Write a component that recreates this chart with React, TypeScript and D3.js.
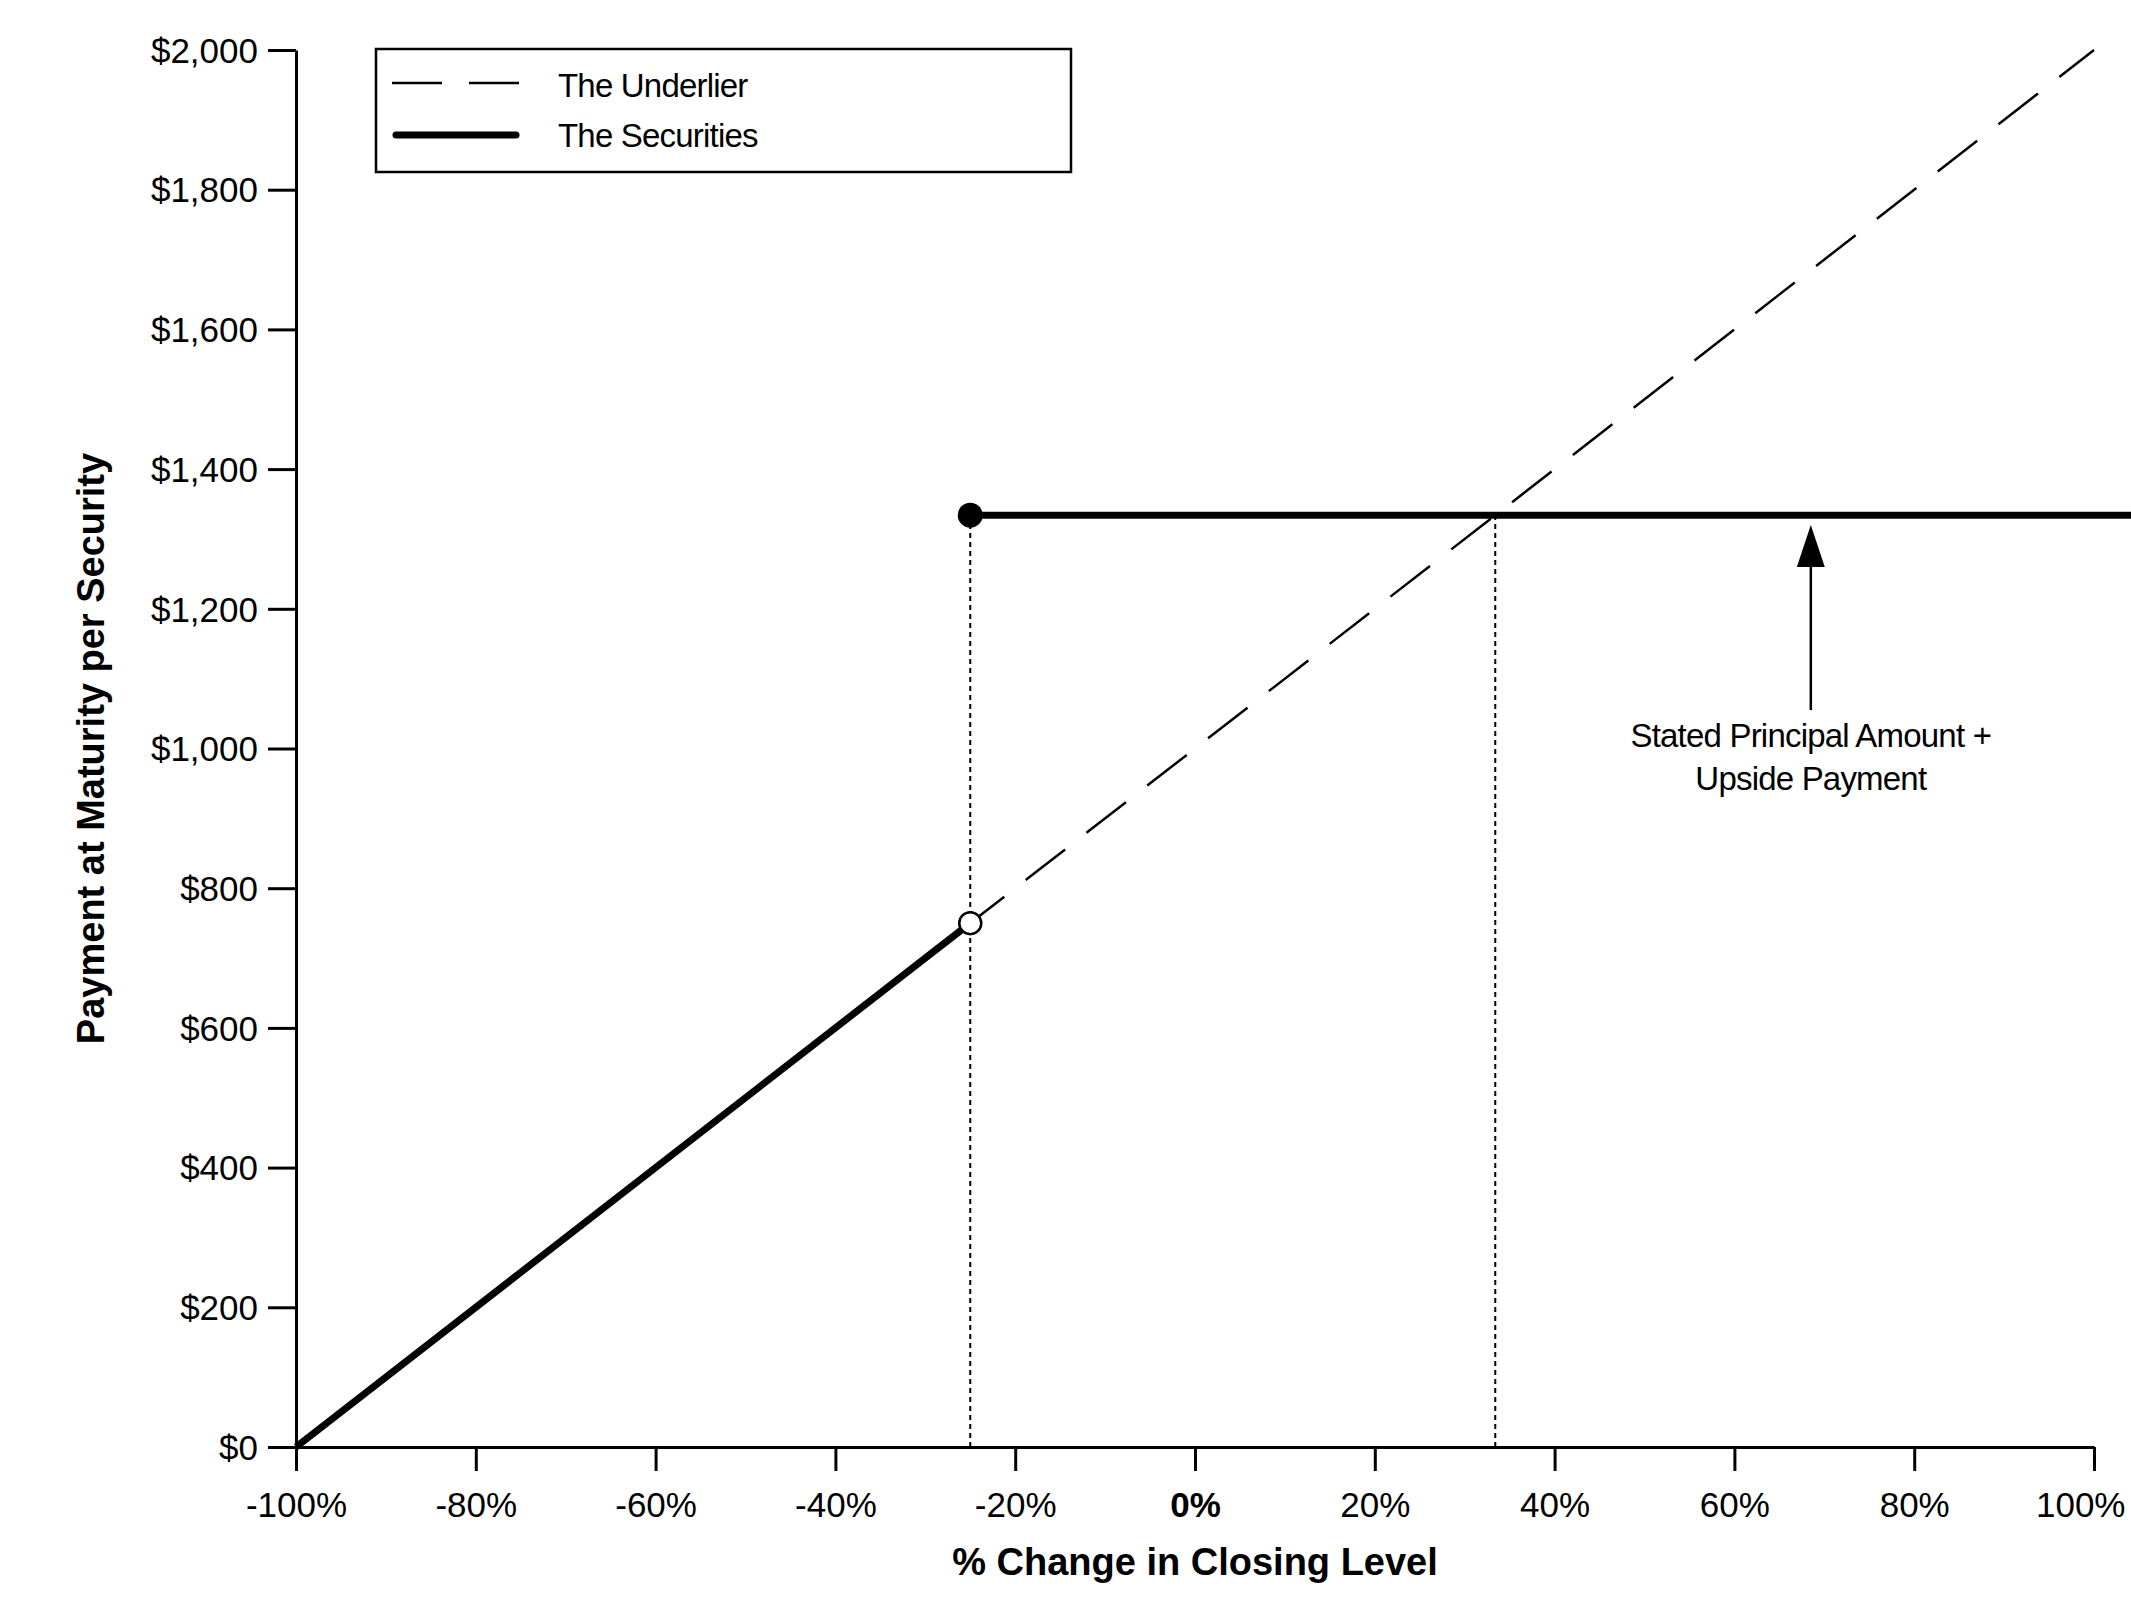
import * as d3 from "d3";
import { useEffect, useRef } from "react";

// % change in closing level (x) and payment per security (y)
const pctTicks = [-100, -80, -60, -40, -20, 0, 20, 40, 60, 80, 100];
const dollarTicks = [0, 200, 400, 600, 800, 1000, 1200, 1400, 1600, 1800, 2000];

const underlier = [
  { pct: -100, value: 0 },
  { pct: 100, value: 2000 },
];
const securitiesLow = [
  { pct: -100, value: 0 },
  { pct: -25, value: 750 },
];
const securitiesCap = [
  { pct: -25, value: 1334 },
  { pct: 106, value: 1334 },
];
const markerLines = [-25, 33.4];
const capValue = 1334;
const openPoint = { pct: -25, value: 750 };
const closedPoint = { pct: -25, value: 1334 };
const arrow = { pct: 68.5, from: 1055, to: 1320 };
const noteLines = ["Stated Principal Amount +", "Upside Payment"];
const legendItems = ["The Underlier", "The Securities"];

const W = 2131;
const H = 1612;
const FONT = "'Liberation Sans', Arial, sans-serif";

export default function App() {
  const ref = useRef<SVGSVGElement>(null);

  useEffect(() => {
    if (!ref.current) return;
    const svg = d3.select(ref.current);
    svg.selectAll("*").remove();

    const x = d3.scaleLinear().domain([-100, 100]).range([296, 2094]);
    const y = d3.scaleLinear().domain([0, 2000]).range([1447, 50]);

    const line = d3
      .line<{ pct: number; value: number }>()
      .x((d) => x(d.pct))
      .y((d) => y(d.value));

    // x axis
    const xAxis = svg
      .append("g")
      .attr("transform", `translate(0,${y(0)})`)
      .call(
        d3
          .axisBottom(x)
          .tickValues(pctTicks)
          .tickSize(24)
          .tickSizeOuter(0)
          .tickFormat((d) => `${d}%`)
      );
    xAxis.select(".domain").attr("stroke", "#000").attr("stroke-width", 3);
    xAxis.selectAll(".tick line").attr("stroke", "#000").attr("stroke-width", 3);
    xAxis
      .selectAll<SVGTextElement, number>(".tick text")
      .attr("y", 70)
      .attr("dy", 0)
      .attr("fill", "#000")
      .attr("font-family", FONT)
      .attr("font-size", 35)
      .attr("font-weight", (d) => (d === 0 ? "bold" : "normal"))
      // last label is pulled inside the page edge, as in the original
      .attr("text-anchor", (d) => (d === 100 ? "end" : "middle"))
      .attr("x", (d) => (d === 100 ? 31 : 0));

    // y axis
    const yAxis = svg
      .append("g")
      .attr("transform", `translate(${x(-100)},0)`)
      .call(
        d3
          .axisLeft(y)
          .tickValues(dollarTicks)
          .tickSize(28)
          .tickSizeOuter(0)
          .tickFormat((d) => `$${d3.format(",")(d as number)}`)
      );
    yAxis.select(".domain").attr("stroke", "#000").attr("stroke-width", 3);
    yAxis.selectAll(".tick line").attr("stroke", "#000").attr("stroke-width", 3);
    yAxis
      .selectAll(".tick text")
      .attr("x", -38)
      .attr("dy", "0.35em")
      .attr("fill", "#000")
      .attr("font-family", FONT)
      .attr("font-size", 35);

    // axis titles
    svg
      .append("text")
      .attr("x", (x(-100) + x(100)) / 2)
      .attr("y", 1575)
      .attr("text-anchor", "middle")
      .attr("font-family", FONT)
      .attr("font-weight", "bold")
      .attr("font-size", 38)
      .text("% Change in Closing Level");

    svg
      .append("text")
      .attr("transform", `translate(104,${(y(0) + y(2000)) / 2}) rotate(-90)`)
      .attr("text-anchor", "middle")
      .attr("font-family", FONT)
      .attr("font-weight", "bold")
      .attr("font-size", 38)
      .text("Payment at Maturity per Security");

    // dotted guide lines
    svg
      .selectAll(".guide")
      .data(markerLines)
      .enter()
      .append("line")
      .attr("x1", (d) => x(d))
      .attr("x2", (d) => x(d))
      .attr("y1", y(0))
      .attr("y2", y(capValue))
      .attr("stroke", "#000")
      .attr("stroke-width", 2)
      .attr("stroke-dasharray", "5,4");

    // the underlier
    svg
      .append("path")
      .attr("d", line(underlier))
      .attr("fill", "none")
      .attr("stroke", "#000")
      .attr("stroke-width", 2.5)
      .attr("stroke-dasharray", "50,27");

    // the securities
    svg
      .append("path")
      .attr("d", line(securitiesLow))
      .attr("fill", "none")
      .attr("stroke", "#000")
      .attr("stroke-width", 7);
    svg
      .append("path")
      .attr("d", line(securitiesCap))
      .attr("fill", "none")
      .attr("stroke", "#000")
      .attr("stroke-width", 7);

    svg
      .append("circle")
      .attr("cx", x(openPoint.pct))
      .attr("cy", y(openPoint.value))
      .attr("r", 11)
      .attr("fill", "#fff")
      .attr("stroke", "#000")
      .attr("stroke-width", 2.5);
    svg
      .append("circle")
      .attr("cx", x(closedPoint.pct))
      .attr("cy", y(closedPoint.value))
      .attr("r", 12.5)
      .attr("fill", "#000");

    // annotation arrow
    const ax = x(arrow.pct);
    const tipY = y(arrow.to);
    svg
      .append("line")
      .attr("x1", ax)
      .attr("x2", ax)
      .attr("y1", y(arrow.from))
      .attr("y2", tipY + 30)
      .attr("stroke", "#000")
      .attr("stroke-width", 2.5);
    svg
      .append("path")
      .attr("d", `M${ax},${tipY} L${ax - 14},${tipY + 42} L${ax + 14},${tipY + 42} Z`)
      .attr("fill", "#000");

    svg
      .selectAll(".note")
      .data(noteLines)
      .enter()
      .append("text")
      .attr("x", ax)
      .attr("y", (d, i) => 747 + i * 43)
      .attr("text-anchor", "middle")
      .attr("font-family", FONT)
      .attr("font-size", 33)
      .attr("letter-spacing", -0.8)
      .text((d) => d);

    // legend
    const lg = svg.append("g");
    lg.append("rect")
      .attr("x", 376)
      .attr("y", 49)
      .attr("width", 695)
      .attr("height", 123)
      .attr("fill", "#fff")
      .attr("stroke", "#000")
      .attr("stroke-width", 2.5);
    lg.append("line")
      .attr("x1", 392)
      .attr("x2", 519)
      .attr("y1", 83)
      .attr("y2", 83)
      .attr("stroke", "#000")
      .attr("stroke-width", 2.5)
      .attr("stroke-dasharray", "50,27");
    lg.append("line")
      .attr("x1", 396)
      .attr("x2", 516)
      .attr("y1", 135)
      .attr("y2", 135)
      .attr("stroke", "#000")
      .attr("stroke-width", 7)
      .attr("stroke-linecap", "round");
    lg.selectAll(".lt")
      .data(legendItems)
      .enter()
      .append("text")
      .attr("x", 558)
      .attr("y", (d, i) => 97 + i * 50)
      .attr("font-family", FONT)
      .attr("font-size", 33)
      .attr("letter-spacing", -0.8)
      .text((d) => d);
  }, []);

  return (
    <svg
      ref={ref}
      width={W}
      height={H}
      style={{ position: "absolute", left: 0, top: 0, background: "#fff" }}
    />
  );
}
